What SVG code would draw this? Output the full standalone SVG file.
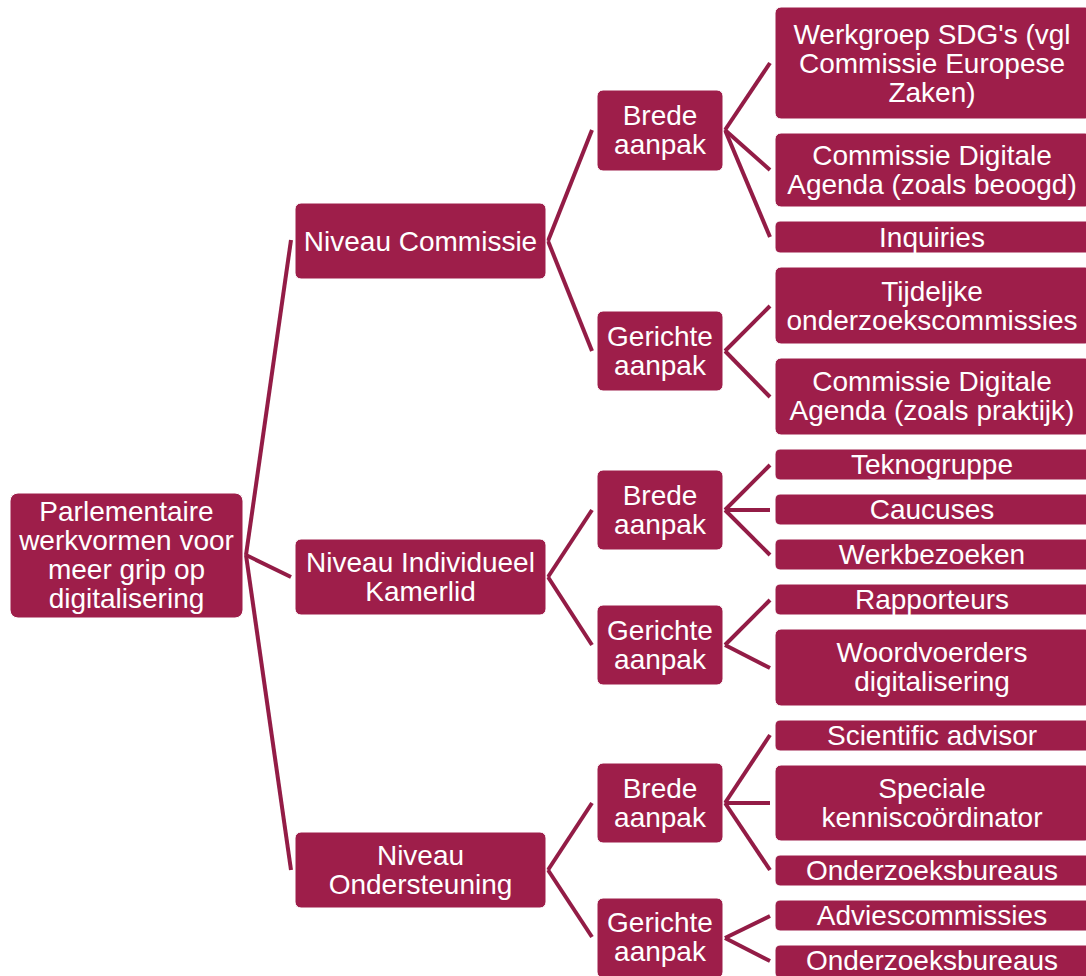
<svg xmlns="http://www.w3.org/2000/svg" width="1086" height="976" viewBox="0 0 1086 976">
<style>
.n rect{fill:#9E1E4A;stroke:#fff;stroke-width:1}
.n text{fill:#fff;font-family:"Liberation Sans",Arial,sans-serif;font-size:28px;text-anchor:middle}
#connectors line{stroke:#931C46;stroke-width:4;stroke-linecap:butt}
</style>
<rect width="1086" height="976" fill="#fff"/>
<g id="connectors">
<line x1="246" y1="555" x2="291" y2="240"/>
<line x1="246" y1="555" x2="291" y2="577"/>
<line x1="246" y1="555" x2="291" y2="870"/>
<line x1="548" y1="241" x2="592" y2="130"/>
<line x1="548" y1="241" x2="592" y2="351"/>
<line x1="548" y1="577" x2="592" y2="510"/>
<line x1="548" y1="577" x2="592" y2="645"/>
<line x1="548" y1="870" x2="592" y2="803"/>
<line x1="548" y1="870" x2="592" y2="937"/>
<line x1="725" y1="130" x2="770" y2="63"/>
<line x1="725" y1="130" x2="770" y2="170"/>
<line x1="725" y1="130" x2="770" y2="237"/>
<line x1="725" y1="351" x2="770" y2="306"/>
<line x1="725" y1="351" x2="770" y2="397"/>
<line x1="725" y1="510" x2="770" y2="465"/>
<line x1="725" y1="510" x2="770" y2="510"/>
<line x1="725" y1="510" x2="770" y2="555"/>
<line x1="725" y1="645" x2="770" y2="600"/>
<line x1="725" y1="645" x2="770" y2="668"/>
<line x1="725" y1="803" x2="770" y2="735"/>
<line x1="725" y1="803" x2="770" y2="803"/>
<line x1="725" y1="803" x2="770" y2="870"/>
<line x1="725" y1="938" x2="770" y2="916"/>
<line x1="725" y1="938" x2="770" y2="961"/>
</g>
<g id="root" class="n"><rect x="10" y="493" width="233" height="125" rx="8"/><text x="126.5" y="521">Parlementaire</text><text x="126.5" y="550">werkvormen voor</text><text x="126.5" y="579">meer grip op</text><text x="126.5" y="608">digitalisering</text></g>
<g id="niveau-commissie" class="n"><rect x="295" y="203" width="251" height="76" rx="6"/><text x="420.5" y="251">Niveau Commissie</text></g>
<g id="niveau-individueel" class="n"><rect x="295" y="539" width="251" height="76" rx="6"/><text x="420.5" y="572">Niveau Individueel</text><text x="420.5" y="601">Kamerlid</text></g>
<g id="niveau-ondersteuning" class="n"><rect x="295" y="832" width="251" height="76" rx="6"/><text x="420.5" y="865">Niveau</text><text x="420.5" y="894">Ondersteuning</text></g>
<g id="c-brede" class="n"><rect x="597" y="90" width="126" height="81" rx="6"/><text x="660" y="125">Brede</text><text x="660" y="154">aanpak</text></g>
<g id="c-gerichte" class="n"><rect x="597" y="311" width="126" height="80" rx="6"/><text x="660" y="346">Gerichte</text><text x="660" y="375">aanpak</text></g>
<g id="i-brede" class="n"><rect x="597" y="470" width="126" height="80" rx="6"/><text x="660" y="505">Brede</text><text x="660" y="534">aanpak</text></g>
<g id="i-gerichte" class="n"><rect x="597" y="605" width="126" height="80" rx="6"/><text x="660" y="640">Gerichte</text><text x="660" y="669">aanpak</text></g>
<g id="o-brede" class="n"><rect x="597" y="763" width="126" height="80" rx="6"/><text x="660" y="798">Brede</text><text x="660" y="827">aanpak</text></g>
<g id="o-gerichte" class="n"><rect x="597" y="898" width="126" height="80" rx="6"/><text x="660" y="932">Gerichte</text><text x="660" y="961">aanpak</text></g>
<g id="werkgroep" class="n"><rect x="775" y="7" width="316" height="112" rx="6"/><text x="932" y="44">Werkgroep SDG's (vgl</text><text x="932" y="73">Commissie Europese</text><text x="932" y="102">Zaken)</text></g>
<g id="cda-beoogd" class="n"><rect x="775" y="133" width="316" height="74" rx="6"/><text x="932" y="165">Commissie Digitale</text><text x="932" y="194">Agenda (zoals beoogd)</text></g>
<g id="inquiries" class="n"><rect x="775" y="221" width="316" height="32" rx="5"/><text x="932" y="247">Inquiries</text></g>
<g id="tijdeljke" class="n"><rect x="775" y="267" width="316" height="77" rx="6"/><text x="932" y="301">Tijdeljke</text><text x="932" y="330">onderzoekscommissies</text></g>
<g id="cda-praktijk" class="n"><rect x="775" y="358" width="316" height="77" rx="6"/><text x="932" y="391">Commissie Digitale</text><text x="932" y="420">Agenda (zoals praktijk)</text></g>
<g id="teknogruppe" class="n"><rect x="775" y="449" width="316" height="31" rx="5"/><text x="932" y="474">Teknogruppe</text></g>
<g id="caucuses" class="n"><rect x="775" y="494" width="316" height="31" rx="5"/><text x="932" y="519">Caucuses</text></g>
<g id="werkbezoeken" class="n"><rect x="775" y="539" width="316" height="31" rx="5"/><text x="932" y="564">Werkbezoeken</text></g>
<g id="rapporteurs" class="n"><rect x="775" y="584" width="316" height="31" rx="5"/><text x="932" y="609">Rapporteurs</text></g>
<g id="woordvoerders" class="n"><rect x="775" y="629" width="316" height="77" rx="6"/><text x="932" y="662">Woordvoerders</text><text x="932" y="691">digitalisering</text></g>
<g id="scientific" class="n"><rect x="775" y="720" width="316" height="31" rx="5"/><text x="932" y="745">Scientific advisor</text></g>
<g id="speciale" class="n"><rect x="775" y="765" width="316" height="76" rx="6"/><text x="932" y="798">Speciale</text><text x="932" y="827">kenniscoördinator</text></g>
<g id="onderzoeksbureaus-1" class="n"><rect x="775" y="855" width="316" height="31" rx="5"/><text x="932" y="880">Onderzoeksbureaus</text></g>
<g id="adviescommissies" class="n"><rect x="775" y="900" width="316" height="31" rx="5"/><text x="932" y="925">Adviescommissies</text></g>
<g id="onderzoeksbureaus-2" class="n"><rect x="775" y="945" width="316" height="33" rx="5"/><text x="932" y="970">Onderzoeksbureaus</text></g>
</svg>
